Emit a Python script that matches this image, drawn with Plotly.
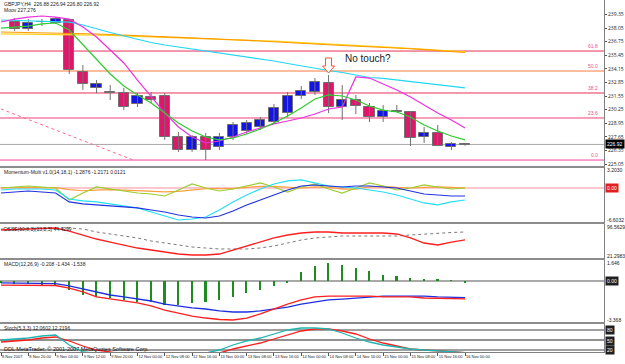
import plotly.graph_objects as go
from plotly.subplots import make_subplots

# ---------------- data ----------------
time_labels = ["8 Nov 2007", "8 Nov 20:00", "9 Nov 04:00", "9 Nov 12:00", "9 Nov 20:00",
               "12 Nov 00:00", "12 Nov 08:00", "12 Nov 16:00", "13 Nov 00:00", "13 Nov 08:00",
               "13 Nov 16:00", "14 Nov 00:00", "14 Nov 08:00", "14 Nov 16:00", "15 Nov 00:00",
               "15 Nov 08:00", "15 Nov 16:00", "16 Nov 00:00"]
label_bars = list(range(0, 35, 2))
bars = list(range(35))
candle_bars = list(range(1, 35))

opens = [238.63, 237.96, 238.58, 238.53, 238.82, 233.85, 232.32, 231.93, 231.84, 230.79, 231.46, 231.55,
         227.63, 226.39, 227.63, 226.68, 227.63, 228.21, 228.59, 229.07, 229.93, 231.55, 231.93, 232.80,
         230.50, 231.17, 230.50, 229.54, 230.07, 230.02, 227.63, 228.02, 226.68, 226.88]
highs = [239.01, 238.91, 238.91, 239.10, 238.91, 234.52, 233.08, 232.60, 232.32, 231.84, 231.93, 231.84,
         228.11, 227.82, 228.02, 228.02, 229.07, 229.26, 229.54, 230.79, 231.93, 232.51, 233.27, 233.56,
         232.60, 231.65, 230.88, 230.69, 230.69, 230.12, 228.59, 228.78, 227.16, 226.94]
lows = [237.77, 237.77, 238.24, 238.44, 233.66, 232.13, 231.84, 231.17, 230.21, 230.50, 230.88, 227.35,
        226.20, 226.20, 225.43, 226.39, 227.35, 227.92, 228.30, 228.88, 229.54, 231.27, 231.65, 229.93,
        229.26, 229.83, 229.07, 229.07, 230.02, 226.77, 227.06, 226.77, 226.39, 226.80]
closes = [237.96, 238.53, 238.63, 238.91, 234.04, 232.70, 232.70, 231.84, 230.50, 231.55, 231.17, 227.63,
          226.39, 227.63, 226.39, 227.63, 228.78, 228.97, 229.26, 230.40, 231.55, 232.03, 232.89, 230.50,
          231.17, 230.60, 229.54, 230.12, 230.12, 227.54, 228.02, 226.77, 227.01, 226.92]

ma_orange = [237.67, 237.65, 237.63, 237.61, 237.59, 237.58, 237.53, 237.48, 237.43, 237.36, 237.31, 237.26,
             237.21, 237.16, 237.12, 237.05, 236.98, 236.93, 236.87, 236.81, 236.74, 236.68, 236.62, 236.52,
             236.45, 236.38, 236.33, 236.28, 236.22, 236.16, 236.07, 235.99, 235.90, 235.81, 235.71]
ma_yellow = [237.50, 237.49, 237.47, 237.46, 237.44, 237.42, 237.40, 237.37, 237.34, 237.30, 237.26, 237.22,
             237.18, 237.14, 237.10, 237.05, 237.00, 236.95, 236.90, 236.85, 236.79, 236.73, 236.67, 236.60,
             236.53, 236.46, 236.39, 236.32, 236.25, 236.17, 236.09, 236.01, 235.93, 235.85, 235.77]
ma_cyan = [238.82, 238.78, 238.74, 238.69, 238.66, 238.61, 238.34, 237.96, 237.62, 237.29, 236.95, 236.67,
           236.43, 236.24, 236.05, 235.85, 235.71, 235.52, 235.33, 235.14, 234.90, 234.66, 234.42, 234.23,
           233.99, 233.80, 233.56, 233.32, 233.23, 233.08, 232.94, 232.75, 232.60, 232.46, 232.32]
ma_magenta = [238.63, 238.91, 239.10, 239.20, 239.10, 238.91, 238.15, 237.19, 235.95, 234.71, 233.08, 231.46,
              229.93, 228.59, 227.63, 227.06, 227.25, 227.63, 228.11, 228.49, 228.88, 229.16, 229.45, 229.83,
              230.31, 230.50, 233.37, 233.27, 232.70, 232.13, 231.46, 230.69, 229.93, 229.26, 228.49]
ma_green = [238.05, 238.15, 238.24, 238.44, 238.53, 237.86, 236.43, 234.99, 233.66, 232.51, 231.65, 230.88,
            229.93, 228.97, 228.21, 227.63, 227.35, 227.54, 227.92, 228.40, 228.97, 229.64, 230.40, 231.27,
            231.65, 231.55, 231.17, 230.60, 230.21, 230.02, 229.54, 228.78, 228.21, 227.73, 227.35]

fib_ratios = ["61.8", "50.0", "38.2", "23.6", "0.0"]
fib_prices = [235.85, 233.94, 231.84, 229.45, 225.43]
fib_colors = ["#E8305A", "#FF7A3C", "#E8305A", "#F0407A", "#F040A0"]
trend_bars = [0, 9.7]
trend_prices = [230.31, 225.43]
bid_price = 226.92

price_ticks = [239.35, 238.05, 236.75, 235.45, 234.15, 232.85, 231.55, 230.25, 228.95, 227.65, 226.35, 225.05]

mom_yg = [0.00, 0.18, 0.36, 0.18, 0.00, -2.16, -0.90, 0.18, -0.18, -0.54, -0.90, -1.08, -1.44, -0.36, 0.72,
          0.00, -0.54, -0.18, 0.36, 0.90, 0.18, -0.72, 0.18, 0.72, -0.18, -0.90, 0.00, 0.90, 0.36, -0.36,
          0.00, 0.54, 0.18, -0.18, 0.00]
mom_blue = [-0.90, -0.72, -0.54, -0.72, -0.90, -2.51, -2.87, -3.05, -3.23, -3.41, -3.59, -3.95, -4.31, -4.85,
            -5.21, -5.39, -5.03, -4.13, -3.05, -2.16, -1.26, -0.36, 0.36, 0.54, 0.36, 0.18, 0.36, 0.36, 0.18,
            0.00, -0.54, -1.08, -1.26, -1.44, -1.44]
mom_cyan = [-0.36, -0.18, -0.18, -0.18, -0.36, -1.98, -2.33, -2.51, -2.87, -3.23, -3.59, -4.31, -5.03, -5.75,
            -5.57, -5.21, -3.95, -2.51, -1.26, -0.18, 0.72, 1.26, 1.44, 0.90, 0.36, 0.18, 0.00, -0.36, -0.72,
            -1.26, -1.98, -2.69, -3.05, -2.51, -2.16]
mom_orange = [0.05, 0.05, 0.10, 0.10, 0.05, -0.30, -0.50, -0.40, -0.30, -0.40, -0.50, -0.60, -0.70, -0.60,
              -0.30, -0.10, -0.10, -0.10, 0.10, 0.30, 0.30, 0.10, 0.00, 0.20, 0.10, -0.20, -0.20, 0.20, 0.30,
              0.10, 0.00, 0.10, 0.20, 0.10, 0.00]

dss_red = [85.9, 87.1, 88.2, 89.4, 90.6, 83.5, 74.1, 64.7, 57.6, 50.6, 43.5, 38.8, 34.1, 29.4, 27.1, 27.1,
           29.4, 38.8, 48.2, 57.6, 67.1, 74.1, 78.8, 81.2, 81.2, 78.8, 78.8, 78.8, 78.8, 76.5, 67.1, 55.3,
           50.6, 57.6, 62.4]
dss_gray = [88.2, 88.2, 89.4, 90.6, 90.6, 90.6, 88.2, 81.2, 76.5, 71.8, 67.1, 60.0, 55.3, 50.6, 45.9, 43.5,
            41.2, 41.2, 41.2, 43.5, 48.2, 55.3, 62.4, 67.1, 69.4, 71.8, 71.8, 71.8, 71.8, 71.8, 74.1, 76.5,
            78.8, 80.0, 81.2]

macd_hist = [-0.17, -0.22, -0.26, -0.35, -0.35, -0.78, -1.21, -1.38, -1.47, -1.64, -1.82, -1.82, -2.07, -2.07,
             -1.90, -1.82, -1.64, -1.38, -1.04, -0.78, -0.43, -0.17, 0.78, 1.30, 1.56, 1.38, 1.12, 0.86, 0.52,
             0.43, 0.26, 0.17, 0.09, 0.04, -0.21]
macd_blue = [-0.17, -0.17, -0.17, -0.17, -0.22, -0.43, -0.69, -0.95, -1.21, -1.38, -1.56, -1.73, -1.99, -2.16,
             -2.33, -2.42, -2.59, -2.68, -2.68, -2.59, -2.42, -2.25, -1.99, -1.82, -1.64, -1.56, -1.47, -1.38,
             -1.30, -1.30, -1.30, -1.30, -1.38, -1.43, -1.434]
macd_red = [-0.35, -0.35, -0.35, -0.35, -0.39, -0.61, -0.95, -1.38, -1.56, -1.73, -1.90, -2.16, -2.51, -2.77,
            -3.03, -3.20, -3.33, -3.37, -3.20, -2.85, -2.42, -1.99, -1.64, -1.38, -1.30, -1.30, -1.30, -1.30,
            -1.38, -1.38, -1.38, -1.47, -1.51, -1.54, -1.538]

stoch_main = [50, 53, 56, 62, 65, 35, 14, 11, 11, 11, 11, 11, 11, 11, 11, 11, 20, 35, 47, 56, 68, 80, 86, 86,
              83, 71, 56, 44, 35, 29, 23, 20, 17, 14, 12.06]
stoch_signal = [44, 47, 50, 56, 59, 47, 32, 20, 14, 8, 8, 8, 8, 8, 8, 8, 11, 23, 32, 41, 53, 65, 77, 83, 83,
                77, 68, 53, 41, 32, 23, 20, 17, 14, 12.22]
stoch_levels = [80, 50, 20]

# ---------------- figure ----------------
H = 352.0  # plot-area height in px


def py(px):
    return 1 - px / H


fig = make_subplots(rows=5, cols=1, vertical_spacing=0)

# candles drawn as wick segments + body bars
wick_x, wick_y = [], []
for b, hi, lo in zip(candle_bars, highs, lows):
    wick_x += [b, b, None]
    wick_y += [hi, lo, None]
fig.add_trace(go.Scatter(x=wick_x, y=wick_y, mode="lines", line=dict(color="#707070", width=1),
                         showlegend=False, hoverinfo="skip"), row=1, col=1)
body_base = [min(o, c) for o, c in zip(opens, closes)]
body_len = [max(abs(c - o), 0.03) for o, c in zip(opens, closes)]
body_col = ["#1414E6" if c >= o else "#E0166A" for o, c in zip(opens, closes)]
fig.add_trace(go.Bar(x=candle_bars, y=body_len, base=body_base, width=0.74,
                     marker=dict(color=body_col, line=dict(color="#707070", width=1)),
                     showlegend=False), row=1, col=1)

for ys, col in [(ma_yellow, "#FFD21E"), (ma_orange, "#FF9A00"), (ma_cyan, "#22D6F2"),
                (ma_magenta, "#EE2FE0"), (ma_green, "#2ECC2E")]:
    fig.add_trace(go.Scatter(x=bars, y=ys, mode="lines", line=dict(color=col, width=1.2),
                             showlegend=False), row=1, col=1)
fig.add_trace(go.Scatter(x=trend_bars, y=trend_prices, mode="lines",
                         line=dict(color="#FF6A8A", width=1, dash="dot"), showlegend=False), row=1, col=1)

# momentum
for ys, col in [(mom_orange, "#FFA040"), (mom_yg, "#9ACD32"), (mom_cyan, "#22E0F2"), (mom_blue, "#2232E0")]:
    fig.add_trace(go.Scatter(x=bars, y=ys, mode="lines", line=dict(color=col, width=1.2),
                             showlegend=False), row=2, col=1)
# dss
fig.add_trace(go.Scatter(x=bars, y=dss_gray, mode="lines", line=dict(color="#7A7A7A", width=1, dash="dot"),
                         showlegend=False), row=3, col=1)
fig.add_trace(go.Scatter(x=bars, y=dss_red, mode="lines", line=dict(color="#FF1E1E", width=1.3),
                         showlegend=False), row=3, col=1)
# macd
fig.add_trace(go.Bar(x=bars, y=macd_hist, width=0.12, marker=dict(color="#1E8C1E", line=dict(width=0)),
                     showlegend=False), row=4, col=1)
fig.add_trace(go.Scatter(x=bars, y=macd_blue, mode="lines", line=dict(color="#1E2FE0", width=1.3),
                         showlegend=False), row=4, col=1)
fig.add_trace(go.Scatter(x=bars, y=macd_red, mode="lines", line=dict(color="#FF1E1E", width=1.3),
                         showlegend=False), row=4, col=1)
# stoch
fig.add_trace(go.Scatter(x=bars, y=stoch_signal, mode="lines", line=dict(color="#FF1E1E", width=1.3),
                         showlegend=False), row=5, col=1)
fig.add_trace(go.Scatter(x=bars, y=stoch_main, mode="lines", line=dict(color="#1FB5B0", width=1.3),
                         showlegend=False), row=5, col=1)

xr = [-0.073, 44.18]
domains = [(0, 166), (168, 222), (224, 258), (260, 322), (324, 352)]
ranges = [[224.86, 240.73], [-6.11, 3.59], [20, 100], [-3.544, 1.815], [14, 98]]
fnt = dict(family="Liberation Sans, Arial, sans-serif", size=5, color="#222222")
for k in range(5):
    sfx = "" if k == 0 else str(k + 1)
    top, bot = domains[k]
    fig.layout["yaxis" + sfx].update(domain=[py(bot), py(top)], range=ranges[k], side="right",
                                     showgrid=False, zeroline=False, showline=True, linecolor="#808080",
                                     linewidth=1, showticklabels=False, ticks="")
    fig.layout["xaxis" + sfx].update(range=xr, showgrid=False, zeroline=False, showticklabels=False,
                                     showline=(k < 4), linecolor="#8C8C8C", linewidth=2, ticks="")

fig.layout.yaxis.update(showticklabels=True, tickvals=price_ticks, ticktext=["%.2f" % v for v in price_ticks],
                        ticks="outside", ticklen=2, tickcolor="#555", tickfont=dict(size=5, color="#222"))
fig.layout.xaxis5.update(showticklabels=True, tickvals=label_bars, ticktext=time_labels, tickangle=0,
                         ticks="outside", ticklen=3, tickcolor="#555", ticklabelposition="outside right",
                         tickfont=dict(family="Liberation Sans", size=4, color="#222"),
                         showline=True, linecolor="#808080", linewidth=1)

shapes = []
for p, c in zip(fib_prices, fib_colors):
    shapes.append(dict(type="line", xref="x domain", yref="y", x0=0, x1=1, y0=p, y1=p,
                       line=dict(color=c, width=1), layer="below"))
shapes.append(dict(type="line", xref="x domain", yref="y", x0=0, x1=1, y0=bid_price, y1=bid_price,
                   line=dict(color="#A8A8A8", width=1), layer="below"))
shapes.append(dict(type="line", xref="x2 domain", yref="y2", x0=0, x1=1, y0=0, y1=0,
                   line=dict(color="#FF8FA0", width=1), layer="below"))
shapes.append(dict(type="line", xref="x4 domain", yref="y4", x0=0, x1=1, y0=0, y1=0,
                   line=dict(color="#8C8C8C", width=1.5), layer="below"))
for lv, c, w in zip(stoch_levels, ["#A0A0A0", "#222222", "#A0A0A0"], [2, 1, 2]):
    shapes.append(dict(type="line", xref="x5 domain", yref="y5", x0=0, x1=1, y0=lv, y1=lv,
                       line=dict(color=c, width=w), layer="below"))
# hollow arrow above bar 24
shapes.append(dict(type="path", xref="x", yref="y", xsizemode="pixel", ysizemode="pixel",
                   xanchor=24, yanchor=highs[23],
                   path="M 0,2 L 6,9 L 3,9 L 3,17 L -3,17 L -3,9 L -6,9 Z",
                   line=dict(color="#F2542A", width=1), fillcolor="white"))
fig.update_layout(shapes=shapes)

ann = []
ann.append(dict(text="GBPJPY,H4  226.88 226.94 226.80 226.92", x=0.004, y=py(4), xref="paper", yref="paper",
                xanchor="left", yanchor="middle", showarrow=False, font=fnt))
ann.append(dict(text="Moov 227.276", x=0.004, y=py(10.5), xref="paper", yref="paper",
                xanchor="left", yanchor="middle", showarrow=False, font=fnt))
for r, p in zip(fib_ratios, fib_prices):
    ann.append(dict(text=r, x=0.993, y=p, xref="x domain", yref="y", xanchor="right", yanchor="bottom",
                    showarrow=False, font=dict(family=fnt["family"], size=5, color="#F0508A")))
ann.append(dict(text="No touch?", x=26.9, y=235.18, xref="x", yref="y", showarrow=False,
                font=dict(family="Liberation Sans, Arial", size=10, color="#222")))
ann.append(dict(text="226.92", x=1, y=bid_price, xref="paper", yref="y", xanchor="left", yanchor="middle",
                xshift=1, showarrow=False, bgcolor="#000000", font=dict(family=fnt["family"], size=5, color="white")))

titles = [("Momentum-Multi v1.0(14,18,1) -1.2876 -1.2171 0.0121", 172),
          ("DSSE(10,8,3)(13,8,5) 44.4299", 229),
          ("MACD(12,26,9) -0.208 -1.434 -1.538", 264),
          ("Stoch(5,3,3) 12.0602 12.2196", 328)]
for t, ypx in titles:
    ann.append(dict(text=t, x=0.004, y=py(ypx), xref="paper", yref="paper", xanchor="left", yanchor="middle",
                    showarrow=False, font=fnt))
ann.append(dict(text="DDL MetaTrader, \u00a9 2001-2007 MetaQuotes Software Corp.", x=0.003, y=py(349),
                xref="paper", yref="paper", xanchor="left", yanchor="middle", showarrow=False,
                font=dict(family=fnt["family"], size=5.5, color="#111")))

side_labels = [("3.2030", 170, None), ("0.00", 188, "#E02020"), ("-6.6032", 220, None),
               ("96.5629", 227, None), ("21.2983", 256, None),
               ("1.646", 263, None), ("0.00", 281, "#202020"), ("-3.368", 320, None),
               ("80", 330, "#202020"), ("50", 341, "#202020"), ("20", 350, "#202020")]
for t, ypx, bg in side_labels:
    ann.append(dict(text=t, x=1, y=py(ypx), xref="paper", yref="paper", xanchor="left", yanchor="middle",
                    xshift=1, showarrow=False, bgcolor=bg if bg else "rgba(0,0,0,0)",
                    font=dict(family=fnt["family"], size=5, color="white" if bg else "#222")))
fig.update_layout(annotations=ann)

fig.update_layout(width=625, height=364, margin=dict(l=0, r=21, t=0, b=12),
                  paper_bgcolor="white", plot_bgcolor="white", bargap=0, showlegend=False)
fig.write_html("out.html")
